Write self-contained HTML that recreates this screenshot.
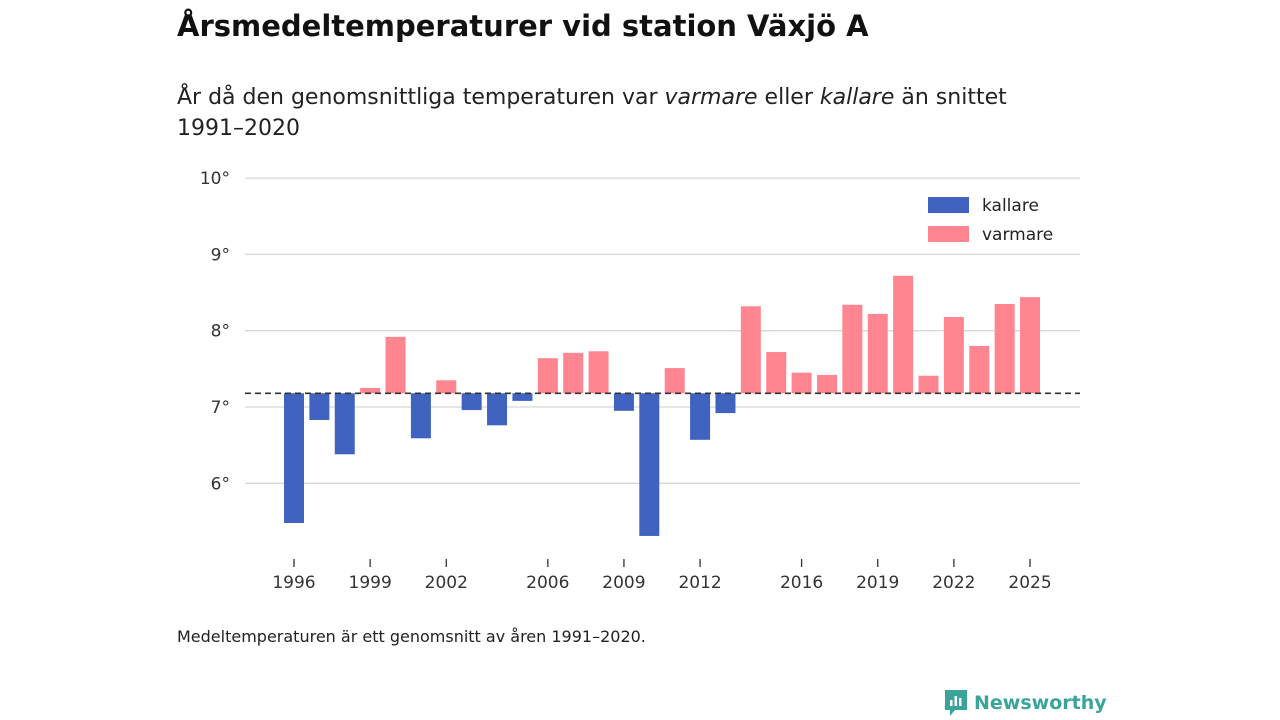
<!DOCTYPE html>
<html><head><meta charset="utf-8">
<style>
body{margin:0;width:1280px;height:720px;background:#fff;font-family:"DejaVu Sans","Liberation Sans",sans-serif;color:#222;overflow:hidden;position:relative}
h1{position:absolute;left:177px;top:9px;margin:0;font-size:29px;font-weight:bold;color:#111}
.sub{position:absolute;left:177px;top:82px;font-size:22px;line-height:31px;width:900px;color:#222}
.note{position:absolute;left:177px;top:627px;font-size:16px;color:#222}
.logo{position:absolute;left:943px;top:688px;font-size:19px;font-weight:bold;color:#3aa39a;display:flex;align-items:center;gap:5px}
svg{position:absolute;left:0;top:0}
</style></head><body>
<h1>Årsmedeltemperaturer vid station Växjö A</h1>
<div class="sub">År då den genomsnittliga temperaturen var <i>varmare</i> eller <i>kallare</i> än snittet 1991–2020</div>
<svg width="1280" height="720" id="chart"></svg>
<div class="note">Medeltemperaturen är ett genomsnitt av åren 1991–2020.</div>
<div class="logo"><svg width="26" height="30" style="position:static" viewBox="0 0 26 30"><path d="M2 2h22v20h-12l-5 6v-6h-5z" fill="#3aa39a"/><rect x="7" y="12" width="2.5" height="6" fill="#fff"/><rect x="11.5" y="8" width="2.5" height="10" fill="#fff"/><rect x="16" y="10" width="2.5" height="8" fill="#fff"/></svg><span>Newsworthy</span></div>
<script>
const years=[1996,1997,1998,1999,2000,2001,2002,2003,2004,2005,2006,2007,2008,2009,2010,2011,2012,2013,2014,2015,2016,2017,2018,2019,2020,2021,2022,2023,2024,2025];
const temps=[5.48,6.83,6.38,7.25,7.92,6.59,7.35,6.96,6.76,7.08,7.64,7.71,7.73,6.95,5.31,7.51,6.57,6.92,8.32,7.72,7.45,7.42,8.34,8.22,8.72,7.41,8.18,7.80,8.35,8.44];
const baseline=7.18;
const yTicks=[6,7,8,9,10];
const xTicks=[1996,1999,2002,2006,2009,2012,2016,2019,2022,2025];
const svg=document.getElementById('chart');const NS='http://www.w3.org/2000/svg';
const y=v=>407-(v-7)*76.3;
const x=yr=>294+(yr-1996)*25.38;
function el(t,a){const e=document.createElementNS(NS,t);for(const k in a)e.setAttribute(k,a[k]);svg.appendChild(e);return e;}
yTicks.forEach(t=>{
 const l=el('line',{x1:245,x2:1080,y1:y(t),y2:y(t),stroke:'#d8d8d8','stroke-width':1.3});
 
 
 const tx=el('text',{x:230,y:y(t)+6,'text-anchor':'end','font-size':17,fill:'#333'});tx.textContent=t+'°';
 
 
});
years.forEach((yr,i)=>{
 const v=temps[i];const warm=v>=baseline;
 const r=el('rect',{x:x(yr)-10,width:20,y:Math.min(y(v),y(baseline)),height:Math.abs(y(v)-y(baseline)),fill:warm?'#ff8591':'#4063bf'});
 
 
});
const bl=el('line',{x1:245,x2:1080,y1:y(baseline),y2:y(baseline),stroke:'#333','stroke-width':1.6,'stroke-dasharray':'6,4'});


xTicks.forEach(t=>{
 const l=el('line',{x1:x(t),x2:x(t),y1:559,y2:567,stroke:'#333','stroke-width':1.3});
 
 
 const tx=el('text',{x:x(t),y:588,'text-anchor':'middle','font-size':17,fill:'#333'});tx.textContent=t;
 
 
});
[['kallare','#4063bf',205],['varmare','#ff8591',234]].forEach(([n,c,yy])=>{
 const r=el('rect',{x:928,y:yy-8,width:41,height:16,fill:c});
 
 
 const t=el('text',{x:982,y:yy+6,'font-size':17,fill:'#222'});t.textContent=n;
 
 
});
</script>
</body></html>
